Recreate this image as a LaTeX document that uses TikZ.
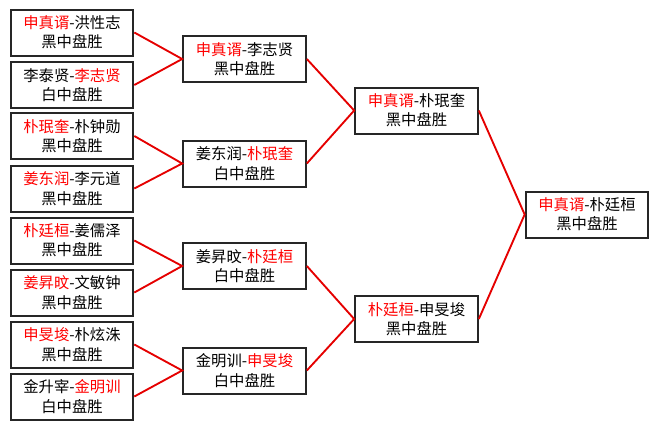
\documentclass[tikz,border=0pt]{standalone}
\usepackage{fontspec}
\newfontfamily\cjk{Noto Sans CJK SC}
\newcommand\win[1]{\textcolor{red}{#1}}

\begin{document}
\begin{tikzpicture}[x=0.75pt, y=-0.75pt, line width=1.4pt,
	    every node/.style={inner sep=2pt},
	    game/.style={draw=black!85, line width=1.5pt, minimum width=92pt,
	      minimum height=34.5pt, align=center,
	      font=\cjk\fontsize{11.5}{14.5}\selectfont},
	    link/.style={draw=red!90!black, line width=1.4pt}]
	    \useasboundingbox (0,0) rectangle (658,429);
	    % first round
	    \node[game] (a1) at (72,32.5) {\win{申真谞}-洪性志\\黑中盘胜};
	    \node[game] (a2) at (72,85) {李泰贤-\win{李志贤}\\白中盘胜};
	    \node[game] (a3) at (72,136) {\win{朴珉奎}-朴钟勋\\黑中盘胜};
	    \node[game] (a4) at (72,188.5) {\win{姜东润}-李元道\\黑中盘胜};
	    \node[game] (a5) at (72,240.5) {\win{朴廷桓}-姜儒泽\\黑中盘胜};
	    \node[game] (a6) at (72,292.5) {\win{姜昇旼}-文敏钟\\黑中盘胜};
	    \node[game] (a7) at (72,344.5) {\win{申旻埈}-朴炫洙\\黑中盘胜};
	    \node[game] (a8) at (72,396.5) {金升宰-\win{金明训}\\白中盘胜};
	    % quarter finals
	    \node[game] (b1) at (244.5,59) {\win{申真谞}-李志贤\\黑中盘胜};
	    \node[game] (b2) at (244.5,163.5) {姜东润-\win{朴珉奎}\\白中盘胜};
	    \node[game] (b3) at (244.5,266) {姜昇旼-\win{朴廷桓}\\白中盘胜};
	    \node[game] (b4) at (244.5,370.5) {金明训-\win{申旻埈}\\白中盘胜};
	    % semi finals
	    \node[game] (c1) at (416.5,110.5) {\win{申真谞}-朴珉奎\\黑中盘胜};
	    \node[game] (c2) at (416.5,319) {\win{朴廷桓}-申旻埈\\黑中盘胜};
	    % final
	    \node[game] (d1) at (587,214.5) {\win{申真谞}-朴廷桓\\黑中盘胜};
	    \draw[link] (a1.east) -- (b1.west) -- (a2.east);
	    \draw[link] (a3.east) -- (b2.west) -- (a4.east);
	    \draw[link] (a5.east) -- (b3.west) -- (a6.east);
	    \draw[link] (a7.east) -- (b4.west) -- (a8.east);
	    \draw[link] (b1.east) -- (c1.west) -- (b2.east);
	    \draw[link] (b3.east) -- (c2.west) -- (b4.east);
	    \draw[link] (c1.east) -- (d1.west) -- (c2.east);
	  \end{tikzpicture}
\end{document}
